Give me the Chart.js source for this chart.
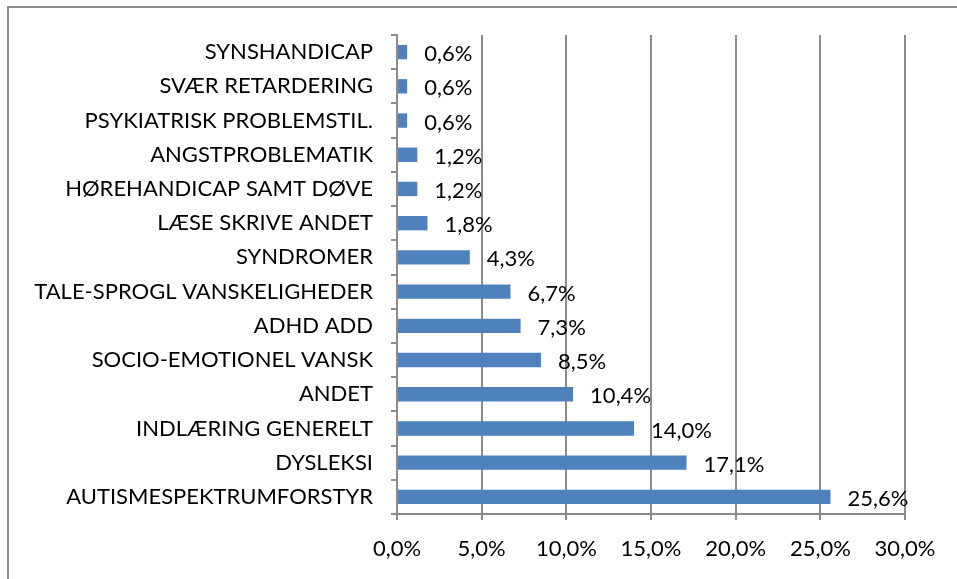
<!DOCTYPE html>
<html>
<head>
<meta charset="utf-8">
<script src="https://cdn.jsdelivr.net/npm/chart.js@4.4.1/dist/chart.umd.min.js"></script>
<style>
    html, body { margin: 0; padding: 0; background: #fff; }
    #wrap { position: relative; width: 957px; height: 579px; }
    #grafico { position: absolute; left: 0; top: 0; }
    #moldura {
        position: absolute; left: 7px; top: 6px; right: -20px; bottom: -20px;
        border-top: 2px solid #8c8c8c; border-left: 2px solid #8c8c8c;
        pointer-events: none;
    }
</style>
</head>
<body>
<div id="wrap">
    <canvas id="grafico" width="957" height="579"></canvas>
    <div id="moldura"></div>
</div>
<script>
const categorias = [
    'SYNSHANDICAP',
    'SVÆR RETARDERING',
    'PSYKIATRISK PROBLEMSTIL.',
    'ANGSTPROBLEMATIK',
    'HØREHANDICAP SAMT DØVE',
    'LÆSE SKRIVE ANDET',
    'SYNDROMER',
    'TALE-SPROGL VANSKELIGHEDER',
    'ADHD ADD',
    'SOCIO-EMOTIONEL VANSK',
    'ANDET',
    'INDLÆRING GENERELT',
    'DYSLEKSI',
    'AUTISMESPEKTRUMFORSTYR'
];
const porcentagens = [0.6, 0.6, 0.6, 1.2, 1.2, 1.8, 4.3, 6.7, 7.3, 8.5, 10.4, 14.0, 17.1, 25.6];
const eixoMin = 0;
const eixoMax = 30;
const eixoPasso = 5;

const fonte = { family: 'Lato, "Open Sans", sans-serif', size: 22 };

function formatarPct(valor, casas) {
    return valor.toFixed(casas).replace('.', ',') + '%';
}

// rotulos ao lado de cada barra (sem plugin externo)
const rotulosBarras = {
    id: 'rotulosBarras',
    afterDatasetsDraw(chart) {
        const ctx = chart.ctx;
        const meta = chart.getDatasetMeta(0);
        ctx.save();
        ctx.font = fonte.size + 'px ' + fonte.family;
        ctx.fillStyle = '#000';
        ctx.textAlign = 'left';
        ctx.textBaseline = 'middle';
        meta.data.forEach((barra, i) => {
            ctx.fillText(formatarPct(porcentagens[i], 1), barra.x + 17, barra.y + 2);
        });
        ctx.restore();
    }
};

const ctx = document.getElementById('grafico').getContext('2d');
new Chart(ctx, {
    type: 'bar',
    data: {
        labels: categorias,
        datasets: [{
            data: porcentagens,
            backgroundColor: '#4f81bd',
            borderWidth: 0,
            categoryPercentage: 0.42,
            barPercentage: 1
        }]
    },
    options: {
        indexAxis: 'y',
        responsive: false,
        animation: false,
        events: [],
        layout: { padding: { left: 0, top: 35, right: 52, bottom: 0 } },
        plugins: {
            legend: { display: false },
            tooltip: { enabled: false }
        },
        scales: {
            x: {
                min: eixoMin,
                max: eixoMax,
                ticks: {
                    stepSize: eixoPasso,
                    color: '#000',
                    font: fonte,
                    padding: 16,
                    callback: function(value) {
                        return formatarPct(value, 1);
                    }
                },
                grid: { color: '#8c8c8c', lineWidth: 2, tickLength: 6 },
                border: { color: '#8c8c8c', width: 2 },
                afterFit: function(scale) { scale.height = 65; }
            },
            y: {
                ticks: { color: '#000', font: fonte, padding: 18 },
                grid: { drawOnChartArea: false, color: '#8c8c8c', lineWidth: 2, tickLength: 6 },
                border: { color: '#8c8c8c', width: 2 },
                afterFit: function(scale) { scale.width = 397; }
            }
        }
    },
    plugins: [rotulosBarras]
});
</script>
</body>
</html>
